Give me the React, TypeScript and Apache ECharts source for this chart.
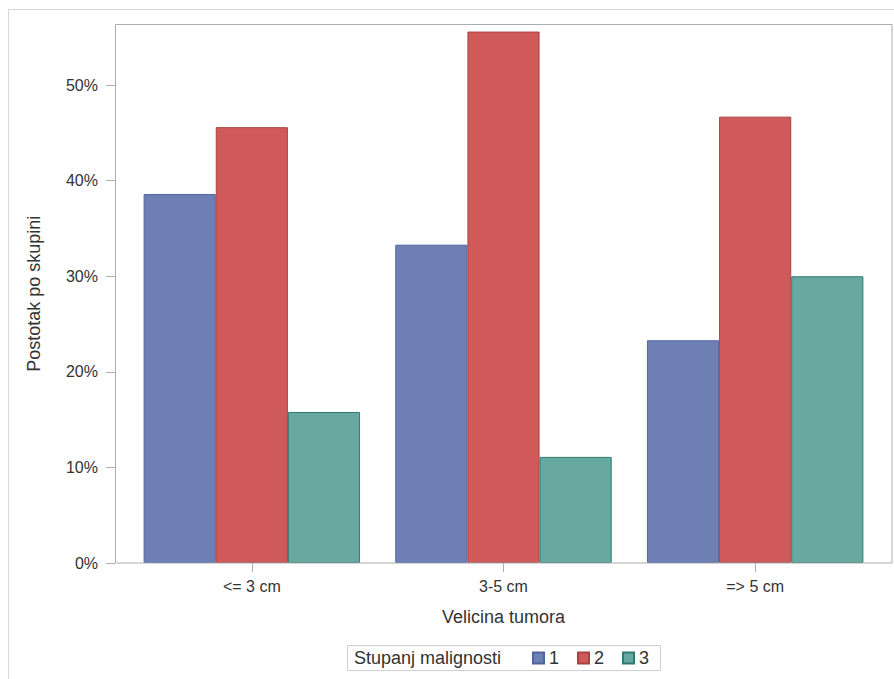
import React, { useEffect, useRef } from "react";
import * as echarts from "echarts";

const categories = ["<= 3 cm", "3-5 cm", "=> 5 cm"];
const seriesNames = ["1", "2", "3"];
const grade1 = [38.6, 33.3, 23.3];
const grade2 = [45.6, 55.6, 46.7];
const grade3 = [15.8, 11.1, 30.0];
const yTicks = [0, 10, 20, 30, 40, 50];

const FONT = "'Liberation Sans', Arial, sans-serif";
const TXT = "#333333";
const FRAME = "#a9adb1";

export default function App() {
  const ref = useRef<HTMLDivElement>(null);
  useEffect(() => {
    if (!ref.current) return;
    const chart = echarts.init(ref.current, null, { renderer: "svg" });
    const fills = ["#6e7fb3", "#d05a5a", "#67a8a0"];
    const borders = ["#5064a0", "#a84242", "#2f7b71"];
    const values = [grade1, grade2, grade3];
    chart.setOption({
      animation: false,
      textStyle: { fontFamily: FONT },
      grid: { left: 126, right: 13, top: 24.5, bottom: 116 },
      xAxis: {
        type: "category",
        data: categories,
        axisLine: { show: false },
        axisTick: { show: true, alignWithLabel: true, length: 9, lineStyle: { color: FRAME } },
        axisLabel: { color: TXT, fontSize: 16, fontFamily: FONT, margin: 15 },
        name: "Velicina tumora",
        nameLocation: "middle",
        nameGap: 45,
        nameTextStyle: { color: TXT, fontSize: 18, fontFamily: FONT },
      },
      yAxis: {
        type: "value",
        min: 0,
        max: 56.34,
        interval: 10,
        offset: 11,
        axisLine: { show: false },
        splitLine: { show: false },
        axisTick: { show: true, length: 9, lineStyle: { color: FRAME }, customValues: yTicks },
        axisLabel: {
          color: TXT,
          fontSize: 16,
          fontFamily: FONT,
          margin: 17,
          customValues: yTicks,
          formatter: (v: number) => `${v}%`,
        },
        name: "Postotak po skupini",
        nameLocation: "middle",
        nameGap: 72,
        nameTextStyle: { color: TXT, fontSize: 18, fontFamily: FONT },
      },
      legend: {
        left: 532,
        top: 649,
        padding: 0,
        itemWidth: 11,
        itemHeight: 11,
        itemGap: 18,
        icon: "rect",
        textStyle: { color: TXT, fontSize: 18, fontFamily: FONT, lineHeight: 18 },
        data: seriesNames,
      },
      graphic: [
        {
          type: "polyline",
          silent: true,
          shape: { points: [[8.5, 679], [8.5, 9.5], [894, 9.5]] },
          style: { stroke: "#d6d6d6", fill: "none", lineWidth: 1 },
        },
        {
          type: "rect",
          silent: true,
          z: 10,
          shape: { x: 115.5, y: 24.5, width: 776.5, height: 538.5 },
          style: { stroke: FRAME, fill: "none", lineWidth: 1 },
        },
        {
          type: "rect",
          silent: true,
          shape: { x: 347.5, y: 645.5, width: 313, height: 25 },
          style: { stroke: "#cfcfcf", fill: "none", lineWidth: 1 },
        },
        {
          type: "text",
          silent: true,
          x: 354,
          y: 658,
          style: {
            text: "Stupanj malignosti",
            fill: TXT,
            fontSize: 18,
            fontFamily: FONT,
            verticalAlign: "middle",
            align: "left",
          },
        },
      ],
      series: seriesNames.map((n, i) => ({
        name: n,
        type: "bar",
        data: values[i],
        barGap: "0%",
        barCategoryGap: "14%",
        itemStyle: { color: fills[i], borderColor: borders[i], borderWidth: 1 },
      })),
    });
    return () => chart.dispose();
  }, []);
  return (
    <div
      ref={ref}
      style={{ position: "absolute", left: 0, top: 0, width: 894, height: 679, background: "#fff" }}
    />
  );
}
